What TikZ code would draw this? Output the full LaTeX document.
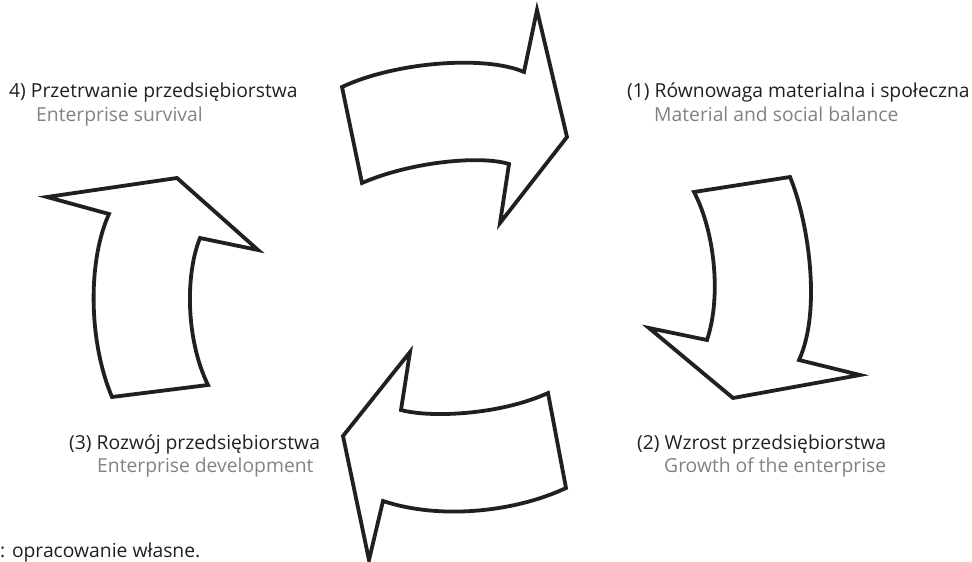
\documentclass[tikz,border=0pt]{standalone}
\usepackage{fontspec}
\setmainfont{Open Sans}
\definecolor{txtblack}{HTML}{231F20}
\definecolor{txtgray}{HTML}{808285}
\begin{document}
\begin{tikzpicture}[x=1pt,y=-1pt,
  bigarrow/.style={draw=txtblack, line width=3.8pt, line join=miter, fill=white},
  mainlbl/.style={anchor=base west, inner sep=0pt, text=txtblack, font=\fontsize{19.3}{22}\selectfont},
  sublbl/.style={anchor=base west, inner sep=0pt, text=txtgray, font=\fontsize{19.3}{22}\selectfont}]
\useasboundingbox (0,0) rectangle (972,562);
% top arrow (pointing right)
\draw[bigarrow] (342,87) .. controls (395,62) and (485,55) .. (524,72)
  -- (537,10) -- (567,137) -- (500,223) -- (509,164)
  .. controls (480,155) and (410,162) .. (362,183) -- cycle;
% right arrow (pointing down)
\draw[bigarrow] (694,192) -- (790,177)
  .. controls (808,220) and (822,310) .. (799,360)
  -- (860,375) -- (733,398) -- (649,328) -- (707,340)
  .. controls (722,295) and (714,230) .. cycle;
% bottom arrow (pointing left)
\draw[bigarrow] (548,393) -- (566,488)
  .. controls (515,512) and (440,520) .. (383,501)
  -- (369,560) -- (343,436) -- (410,352) -- (401,410)
  .. controls (430,418) and (500,415) .. cycle;
% left arrow (pointing up)
\draw[bigarrow] (112,397) -- (208,385)
  .. controls (186,340) and (185,275) .. (200,238)
  -- (258,250) -- (177,178) -- (47,197) -- (109,214)
  .. controls (88,260) and (88,340) .. cycle;
% labels
\node[mainlbl] (l4a) at (9,97) {4) Przetrwanie przedsiębiorstwa};
\node[sublbl] (l4b) at (36,121) {Enterprise survival};
\node[mainlbl] (l1a) at (627,97) {(1) Równowaga materialna i społeczna};
\node[sublbl] (l1b) at (654,121) {Material and social balance};
\node[mainlbl] (l2a) at (637,449) {(2) Wzrost przedsiębiorstwa};
\node[sublbl] (l2b) at (664,472) {Growth of the enterprise};
\node[mainlbl] (l3a) at (69,449) {(3) Rozwój przedsiębiorstwa};
\node[sublbl] (l3b) at (97,472) {Enterprise development};
\node[mainlbl] (src) at (0,557) {: opracowanie własne.};
\end{tikzpicture}
\end{document}
